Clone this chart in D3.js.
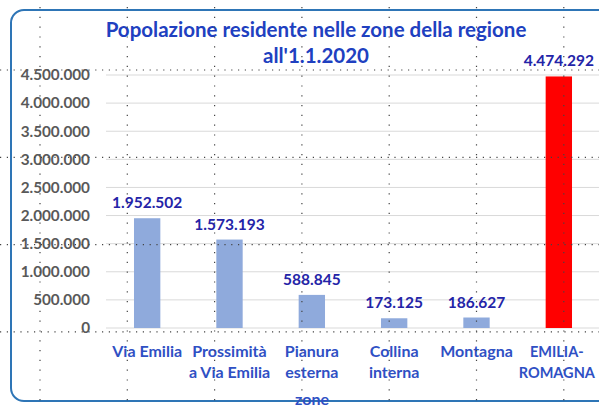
<!DOCTYPE html>
<html>
<head>
<meta charset="utf-8">
<script src="https://cdn.jsdelivr.net/npm/d3@7"></script>
<style>
  html, body { margin: 0; padding: 0; background: #fff; }
  svg { display: block; }
</style>
</head>
<body>
<svg id="chart" width="599" height="408"></svg>
<script>
// dati del grafico
const categories = ["Via Emilia", "Prossimità a Via Emilia", "Pianura esterna", "Collina interna", "Montagna", "EMILIA-ROMAGNA"];
const categoryLines = [["Via Emilia"], ["Prossimità", "a Via Emilia"], ["Pianura", "esterna"], ["Collina", "interna"], ["Montagna"], ["EMILIA-", "ROMAGNA"]];
const values = [1952502, 1573193, 588845, 173125, 186627, 4474292];
const yTicks = [0, 500000, 1000000, 1500000, 2000000, 2500000, 3000000, 3500000, 4000000, 4500000];
const titleLines = ["Popolazione residente nelle zone della regione", "all'1.1.2020"];
const axisTitle = "zone";

const FONT = "Lato, 'Open Sans', sans-serif";
const svg = d3.select("#chart");

// formato italiano con punto come separatore migliaia
const it = d3.formatLocale({ decimal: ",", thousands: ".", grouping: [3], currency: ["€", ""] });
const fmt = it.format(",d");

// cornice arrotondata
svg.append("rect")
  .attr("x", 11).attr("y", 10)
  .attr("width", 600).attr("height", 391)
  .attr("rx", 13)
  .attr("fill", "none")
  .attr("stroke", "#2e75b6")
  .attr("stroke-width", 2);

const x = d3.scaleBand().domain(categories).range([106, 600]).paddingInner(0.68).paddingOuter(0.34);
const y = d3.scaleLinear().domain([0, 4500000]).range([328, 75]);

// griglia orizzontale
svg.append("g")
  .selectAll("line")
  .data(yTicks)
  .join("line")
  .attr("x1", 106).attr("x2", 599)
  .attr("y1", (d) => y(d)).attr("y2", (d) => y(d))
  .attr("stroke", "#d9d9d9")
  .attr("stroke-width", 1);

// etichette asse y
svg.append("g")
  .selectAll("text")
  .data(yTicks)
  .join("text")
  .attr("x", 90)
  .attr("y", (d) => y(d))
  .attr("dy", "0.35em")
  .attr("text-anchor", "end")
  .attr("font-family", FONT)
  .attr("font-weight", "bold")
  .attr("font-size", 15.3)
  .attr("fill", "#595959")
  .text((d) => fmt(d));

// barre
svg.append("g")
  .selectAll("rect")
  .data(values)
  .join("rect")
  .attr("x", (d, i) => x(categories[i]))
  .attr("y", (d) => y(d))
  .attr("width", x.bandwidth())
  .attr("height", (d) => y(0) - y(d))
  .attr("fill", (d, i) => i === values.length - 1 ? "#ff0000" : "#8faadc");

// valori sopra le barre
svg.append("g")
  .selectAll("text")
  .data(values)
  .join("text")
  .attr("x", (d, i) => x(categories[i]) + x.bandwidth() / 2)
  .attr("y", (d) => y(d) - 10)
  .attr("text-anchor", "middle")
  .attr("font-family", FONT)
  .attr("font-weight", "bold")
  .attr("font-size", 15.5)
  .attr("fill", "#2424a8")
  .text((d) => fmt(d));

// etichette categorie (l'ultima un po' più piccola per stare nel riquadro)
const cat = svg.append("g")
  .selectAll("text")
  .data(categoryLines)
  .join("text")
  .attr("text-anchor", "middle")
  .attr("font-family", FONT)
  .attr("font-weight", "bold")
  .attr("font-size", (d, i) => i === categoryLines.length - 1 ? 14.5 : 16)
  .attr("fill", "#2f50c4");
cat.each(function (lines, i) {
  const cx = x(categories[i]) + x.bandwidth() / 2 - (i === categoryLines.length - 1 ? 2 : 0);
  d3.select(this).selectAll("tspan")
    .data(lines)
    .join("tspan")
    .attr("x", cx)
    .attr("y", (d, j) => 357 + j * 21)
    .text((d) => d);
});

// titolo asse x
svg.append("text")
  .attr("x", 312).attr("y", 405)
  .attr("text-anchor", "middle")
  .attr("font-family", FONT)
  .attr("font-weight", "bold")
  .attr("font-size", 16)
  .attr("fill", "#2f50c4")
  .text(axisTitle);

// titolo
svg.append("g")
  .selectAll("text")
  .data(titleLines)
  .join("text")
  .attr("x", 316)
  .attr("y", (d, i) => 37 + i * 26)
  .attr("text-anchor", "middle")
  .attr("font-family", FONT)
  .attr("font-weight", "bold")
  .attr("font-size", 20.5)
  .attr("fill", "#2040c0")
  .text((d) => d);

// griglia punteggiata della pagina (sovrapposta)
const step = 87.3;
const vx = d3.range(7).map((i) => 40 + i * step);
const hy = d3.range(4).map((i) => 70 + i * step);
const dots = svg.append("g").attr("stroke", "#444").attr("stroke-width", 1.2);
dots.selectAll(".v").data(vx).join("line").attr("class", "v")
  .attr("x1", (d) => d).attr("x2", (d) => d)
  .attr("y1", 7).attr("y2", 408)
  .attr("stroke-dasharray", "1.2 8.6");
dots.selectAll(".h").data(hy).join("line").attr("class", "h")
  .attr("x1", 0).attr("x2", 599)
  .attr("y1", (d) => d).attr("y2", (d) => d)
  .attr("stroke-dasharray", "1.2 5.6");
</script>
</body>
</html>
